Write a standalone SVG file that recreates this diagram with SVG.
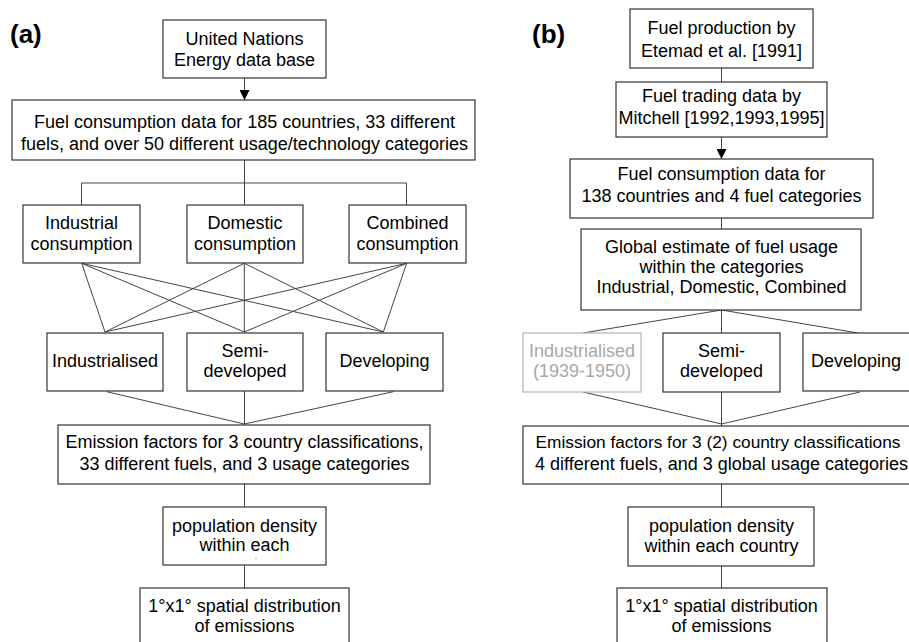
<svg xmlns="http://www.w3.org/2000/svg" width="909" height="642" viewBox="0 0 909 642">
<style>
.box{fill:#fff;stroke:#333;stroke-width:1.2}
.gbox{fill:#fff;stroke:#b4b4b4;stroke-width:1.2}
.t{font-family:"Liberation Sans",Arial,sans-serif;font-size:18px;fill:#000;text-anchor:middle}
.g{fill:#a8a8a8}
.lbl{font-family:"Liberation Sans",Arial,sans-serif;font-size:26px;font-weight:bold;fill:#000}
.c{stroke:#444;stroke-width:1;fill:none}
</style>
<defs>
<marker id="ah" viewBox="0 0 10 10" refX="10" refY="5" markerWidth="10" markerHeight="10" markerUnits="userSpaceOnUse" orient="auto">
<path d="M0,0 L10,5 L0,10 Z" fill="#000"/>
</marker>
</defs>
<rect width="909" height="642" fill="#fff"/>
<text class="lbl" x="10" y="43">(a)</text>
<text class="lbl" x="532" y="43">(b)</text>
<g id="connectors">
<!-- panel a -->
<line class="c" x1="244.5" y1="78" x2="244.5" y2="100" marker-end="url(#ah)"/>
<line class="c" x1="244.5" y1="160" x2="244.5" y2="205"/>
<polyline class="c" points="81.5,205 81.5,183 406.5,183 406.5,205"/>
<line class="c" x1="81.7" y1="263.3" x2="105" y2="332"/>
<line class="c" x1="81.7" y1="263.3" x2="244.3" y2="332"/>
<line class="c" x1="81.7" y1="263.3" x2="383.3" y2="332"/>
<line class="c" x1="244.3" y1="263.3" x2="105" y2="332"/>
<line class="c" x1="244.3" y1="263.3" x2="244.3" y2="332"/>
<line class="c" x1="244.3" y1="263.3" x2="383.3" y2="332"/>
<line class="c" x1="406.7" y1="263.3" x2="105" y2="332"/>
<line class="c" x1="406.7" y1="263.3" x2="244.3" y2="332"/>
<line class="c" x1="406.7" y1="263.3" x2="383.3" y2="332"/>
<line class="c" x1="106.7" y1="391.7" x2="244.3" y2="424"/>
<line class="c" x1="393.3" y1="391.7" x2="244.3" y2="424"/>
<line class="c" x1="244.5" y1="391" x2="244.5" y2="425"/>
<line class="c" x1="244.5" y1="484" x2="244.5" y2="507"/>
<line class="c" x1="244.5" y1="565" x2="244.5" y2="588"/>
<!-- panel b -->
<line class="c" x1="721.5" y1="68" x2="721.5" y2="82"/>
<line class="c" x1="721.5" y1="137" x2="721.5" y2="159" marker-end="url(#ah)"/>
<line class="c" x1="721.5" y1="218" x2="721.5" y2="229"/>
<line class="c" x1="721.5" y1="310" x2="583" y2="333"/>
<line class="c" x1="721.5" y1="310" x2="721.5" y2="333"/>
<line class="c" x1="721.5" y1="310" x2="858" y2="333"/>
<line class="c" x1="583" y1="392" x2="721.5" y2="424"/>
<line class="c" x1="860" y1="392" x2="721.5" y2="424"/>
<line class="c" x1="721.5" y1="392" x2="721.5" y2="426"/>
<line class="c" x1="721.5" y1="484" x2="721.5" y2="507"/>
<line class="c" x1="721.5" y1="566" x2="721.5" y2="588"/>
</g>
<!-- panel a nodes -->
<g id="a_un"><rect class="box" x="163" y="20" width="163" height="58"/>
<text class="t" x="244.5" y="45">United Nations</text><text class="t" x="244.5" y="66">Energy data base</text></g>
<g id="a_fuel"><rect class="box" x="12" y="100" width="463" height="60"/>
<text class="t" x="244.5" y="128">Fuel consumption data for 185 countries, 33 different</text><text class="t" x="244.5" y="150">fuels, and over 50 different usage/technology categories</text></g>
<g id="a_ind"><rect class="box" x="23" y="205" width="117" height="58"/>
<text class="t" x="81.5" y="229">Industrial</text><text class="t" x="81.5" y="250">consumption</text></g>
<g id="a_dom"><rect class="box" x="187" y="205" width="116" height="58"/>
<text class="t" x="245" y="229">Domestic</text><text class="t" x="245" y="250">consumption</text></g>
<g id="a_com"><rect class="box" x="349" y="205" width="117" height="58"/>
<text class="t" x="407.5" y="229">Combined</text><text class="t" x="407.5" y="250">consumption</text></g>
<g id="a_indl"><rect class="box" x="47" y="333" width="116" height="58"/>
<text class="t" x="105" y="367">Industrialised</text></g>
<g id="a_semi"><rect class="box" x="187" y="333" width="116" height="58"/>
<text class="t" x="245" y="357">Semi-</text><text class="t" x="245" y="377">developed</text></g>
<g id="a_dev"><rect class="box" x="326" y="333" width="117" height="58"/>
<text class="t" x="384.5" y="367">Developing</text></g>
<g id="a_emis"><rect class="box" x="58" y="425" width="372" height="59"/>
<text class="t" x="244.5" y="448">Emission factors for 3 country classifications,</text><text class="t" x="244.5" y="470">33 different fuels, and 3 usage categories</text></g>
<g id="a_pop"><rect class="box" x="163" y="507" width="163" height="58"/>
<text class="t" x="244.5" y="532">population density</text><text class="t" x="244.5" y="551">within each</text>
<circle cx="256" cy="558" r="0.6" fill="#555"/></g>
<g id="a_sp"><rect class="box" x="140" y="588" width="209" height="70"/>
<text class="t" x="244.5" y="612">1°x1° spatial distribution</text><text class="t" x="244.5" y="632">of emissions</text></g>
<!-- panel b nodes -->
<g id="b_prod"><rect class="box" x="630" y="9" width="183" height="59"/>
<text class="t" x="721.5" y="34">Fuel production by</text><text class="t" x="721.5" y="57">Etemad et al. [1991]</text></g>
<g id="b_trade"><rect class="box" x="616" y="82" width="211" height="55"/>
<text class="t" x="721.5" y="102">Fuel trading data by</text><text class="t" x="721.5" y="124">Mitchell [1992,1993,1995]</text></g>
<g id="b_fuel"><rect class="box" x="570" y="159" width="303" height="59"/>
<text class="t" x="721.5" y="180">Fuel consumption data for</text><text class="t" x="721.5" y="202">138 countries and 4 fuel categories</text></g>
<g id="b_glob"><rect class="box" x="581" y="229" width="280" height="81"/>
<text class="t" x="721.5" y="253">Global estimate of fuel usage</text><text class="t" x="721.5" y="273">within the categories</text><text class="t" x="721.5" y="293">Industrial, Domestic, Combined</text></g>
<g id="b_indl"><rect class="gbox" x="523" y="333" width="118" height="59"/>
<text class="t g" x="582" y="357">Industrialised</text><text class="t g" x="582" y="377">(1939-1950)</text></g>
<g id="b_semi"><rect class="box" x="663" y="333" width="117" height="59"/>
<text class="t" x="721.5" y="357">Semi-</text><text class="t" x="721.5" y="377">developed</text></g>
<g id="b_dev"><rect class="box" x="803" y="333" width="120" height="58"/>
<text class="t" x="856" y="367">Developing</text></g>
<g id="b_emis"><rect class="box" x="523" y="426" width="397" height="58"/>
<text class="t" x="718" y="448" style="font-size:17.3px">Emission factors for 3 (2) country classifications</text><text class="t" x="721.5" y="470">4 different fuels, and 3 global usage categories</text></g>
<g id="b_pop"><rect class="box" x="628" y="507" width="186" height="59"/>
<text class="t" x="721.5" y="532">population density</text><text class="t" x="721.5" y="552">within each country</text></g>
<g id="b_sp"><rect class="box" x="617" y="588" width="210" height="70"/>
<text class="t" x="721.5" y="612">1°x1° spatial distribution</text><text class="t" x="721.5" y="632">of emissions</text></g>
</svg>
